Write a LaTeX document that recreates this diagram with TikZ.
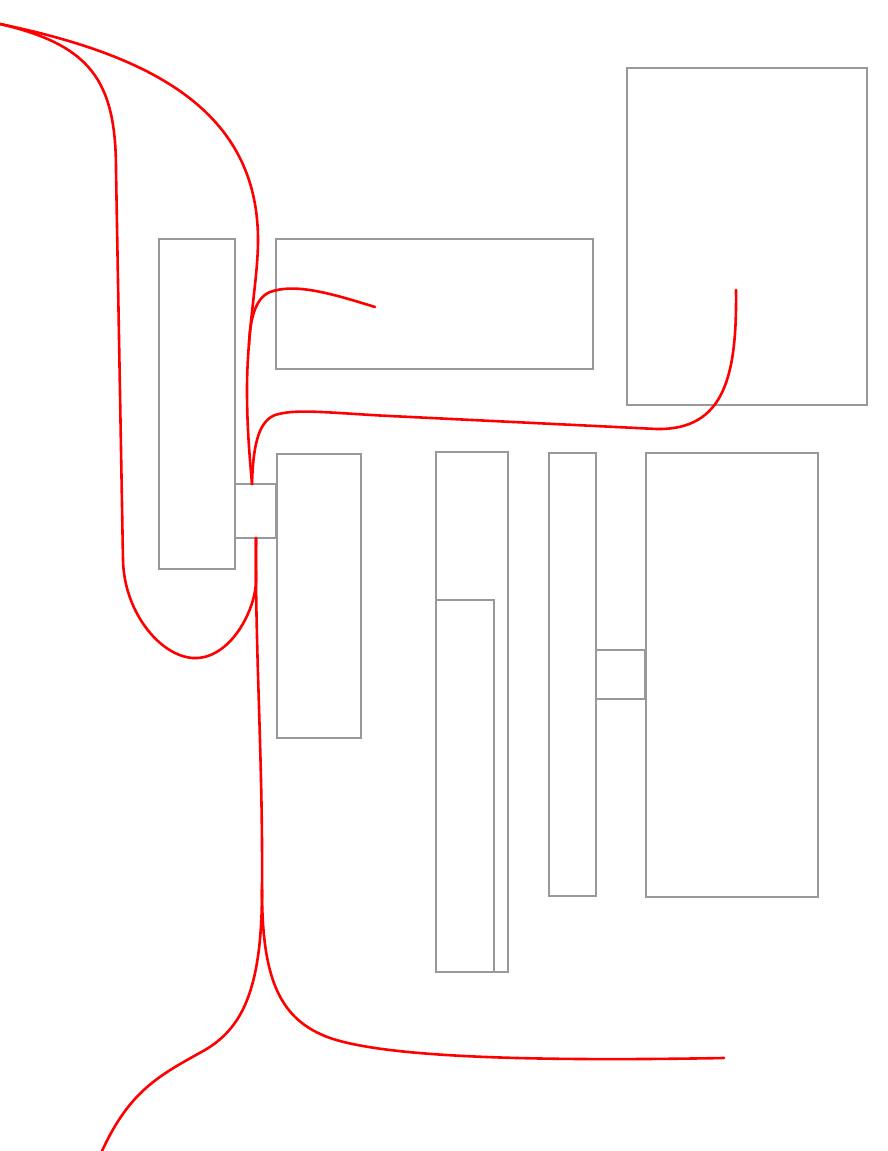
\documentclass[tikz,border=0pt]{standalone}
\begin{document}
\begin{tikzpicture}[x=1pt,y=-1pt,
  box/.style={draw={rgb,255:red,153;green,153;blue,153},line width=2.5pt},
  route/.style={draw=red,line width=2.6pt,line cap=round}]
\useasboundingbox (0,0) rectangle (887,1151);
% rectangles
\draw[box] (159,239) rectangle (235,569);
\draw[box] (276,239) rectangle (593,369);
\draw[box] (627,68) rectangle (867,405);
\draw[box] (235,484) rectangle (276,538);
\draw[box] (277,454) rectangle (361,738);
\draw[box] (436,452) rectangle (508,972);
\draw[box] (436,600) rectangle (494,972);
\draw[box] (549,453) rectangle (596,896);
\draw[box] (596,650) rectangle (645,699);
\draw[box] (646,453) rectangle (818,897);
% route end points
\coordinate (start) at (0,24);
\coordinate (top) at (252,484);
\coordinate (bot) at (256,538);
\coordinate (split) at (262,890);
\coordinate (endA) at (375,307);
\coordinate (endB) at (736,290);
\coordinate (endC) at (102,1151);
\coordinate (endD) at (724,1058);
% routes
\draw[route] (start) .. controls (150,55) and (258,110) .. (258,240)
  .. controls (258,280) and (247,330) .. (247,390)
  .. controls (247,430) and (250,460) .. (top);
\draw[route] (endA) .. controls (330,293) and (295,283) .. (270,292)
  .. controls (255,298) and (250,320) .. (249,345);
\draw[route] (endB) .. controls (737,375) and (725,430) .. (657,429)
  -- (380,415.5) .. controls (320,412) and (295,409) .. (275,415)
  .. controls (257,422) and (253,450) .. (top);
\draw[route] (start) .. controls (90,45) and (116,80) .. (116,170)
  -- (123,560) .. controls (124,612) and (160,656) .. (193,658)
  .. controls (230,660) and (256,610) .. (256,580) -- (bot);
\draw[route] (bot) .. controls (255,650) and (263,760) .. (split);
\draw[route] (split) .. controls (262,990) and (242,1028) .. (205,1050)
  .. controls (160,1075) and (130,1090) .. (endC);
\draw[route] (split) .. controls (262,980) and (280,1020) .. (330,1038)
  .. controls (380,1055) and (500,1062) .. (endD);
\end{tikzpicture}
\end{document}
